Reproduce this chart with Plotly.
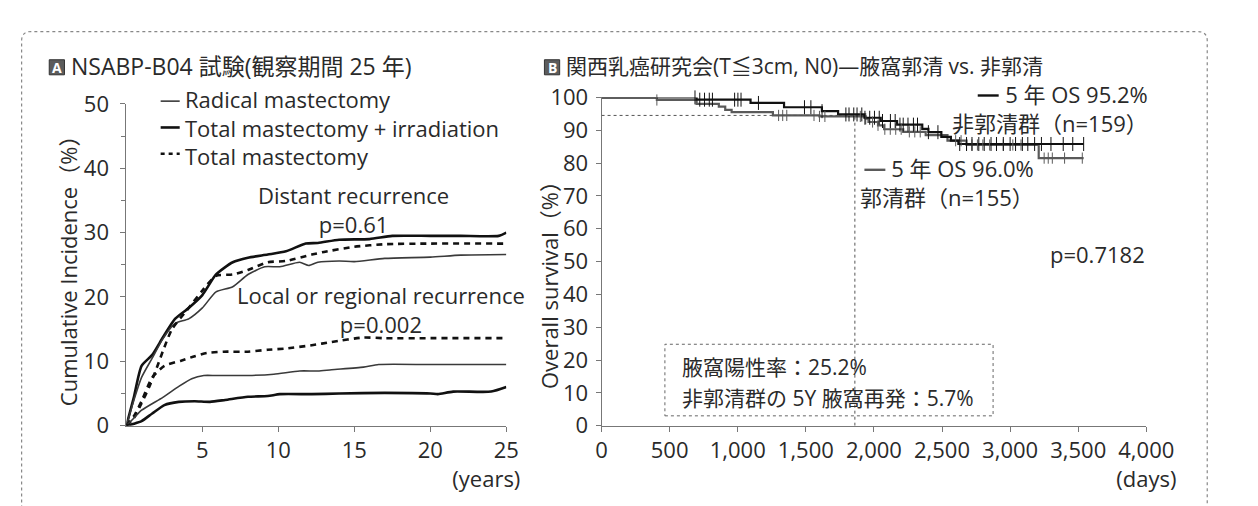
import plotly.graph_objects as go

# ---------------- data: panel A (NSABP-B04, cumulative incidence %) ----------------
dist_tmi_years = [0, 0.5, 1, 1.7, 2.4, 3.2, 4.1, 5, 5.9, 7, 8, 9.3, 10.5, 11.8, 12.6, 14, 16, 17.5, 20, 22, 24.5, 25]
dist_tmi_vals  = [0, 4.5, 9.3, 11.0, 13.7, 16.6, 18.3, 20.3, 23.5, 25.4, 26.1, 26.6, 27.1, 28.3, 28.4, 28.9, 29.0, 29.5, 29.5, 29.5, 29.5, 30.0]

dist_rm_years = [0, 0.5, 1, 1.7, 2.4, 3.2, 4.1, 5, 5.9, 7, 8, 9.1, 10.1, 11.4, 12, 12.6, 14, 15, 17, 20, 22, 25]
dist_rm_vals  = [0, 4.0, 7.5, 10.5, 13.5, 15.9, 16.6, 18.3, 20.8, 21.6, 23.5, 24.7, 24.7, 25.4, 24.9, 25.4, 25.6, 25.5, 26.0, 26.2, 26.5, 26.6]

dist_tm_years = [0, 0.5, 1, 1.5, 2, 2.5, 3, 4, 5, 5.9, 7, 8, 9.3, 10.5, 12.2, 13, 15, 17, 20, 25]
dist_tm_vals  = [0, 1.2, 3.5, 6.0, 9.0, 12.2, 15.0, 18.0, 21.0, 23.3, 23.5, 24.2, 25.4, 25.6, 26.6, 27.0, 27.8, 28.2, 28.3, 28.3]

loc_tm_years = [0, 0.5, 1, 1.7, 2.5, 3.6, 4.5, 5.3, 6.4, 8, 9.3, 10.5, 12.2, 13.5, 15.6, 17, 20, 25]
loc_tm_vals  = [0, 1.5, 3.8, 7.5, 9.3, 10.1, 10.8, 11.3, 11.5, 11.5, 11.8, 12.0, 12.5, 13.0, 13.7, 13.6, 13.6, 13.6]

loc_rm_years = [0, 0.5, 1, 2.4, 3.45, 4.3, 5.1, 5.9, 8, 9.7, 11.4, 12.6, 13.5, 15.6, 16.6, 20, 25]
loc_rm_vals  = [0, 1.2, 2.4, 4.4, 6.1, 7.3, 7.8, 7.8, 7.8, 8.0, 8.5, 8.5, 8.7, 9.1, 9.5, 9.5, 9.5]

loc_tmi_years = [0, 0.5, 1, 1.7, 2.5, 3.45, 4.5, 5.5, 6.5, 8, 9.3, 10.1, 12.2, 14, 17, 20, 20.5, 21.5, 24, 25]
loc_tmi_vals  = [0, 0.3, 0.7, 1.9, 3.2, 3.7, 3.8, 3.7, 4.0, 4.5, 4.6, 4.9, 4.9, 5.0, 5.1, 5.0, 4.9, 5.3, 5.3, 6.0]

a_xticks = [5, 10, 15, 20, 25]
a_xticktext = ["5", "10", "15", "20", "25<br>(years)" + "&nbsp;" * 7]
a_yticks = [0, 10, 20, 30, 40, 50]
legend_a = ["Radical mastectomy", "Total mastectomy + irradiation", "Total mastectomy"]

# ---------------- data: panel B (overall survival %) ----------------
nondis_days = [0, 698, 1094, 1340, 1618, 1737, 1930, 2050, 2170, 2355, 2400, 2495, 2565, 2620, 3540]
nondis_os   = [100, 99.3, 98.3, 97.0, 95.8, 94.8, 93.8, 92.8, 91.7, 90.4, 89.4, 88.0, 86.8, 85.8, 85.8]
nondis_cens = [686, 721, 756, 791, 814, 977, 1001, 1024, 1152, 1490, 1537, 1619, 1794, 1817, 1852,
               1876, 1911, 1934, 1969, 2004, 2039, 2063, 2121, 2156, 2191, 2215, 2250, 2290, 2320,
               2400, 2470, 2630, 2680, 2720, 2770, 2810, 2860, 2900, 2950, 3000, 3040, 3090, 3130,
               3180, 3230, 3300, 3390, 3460, 3540]

dis_days = [0, 406, 698, 861, 908, 955, 1258, 1600, 1940, 1960, 2030, 2075, 2215, 2380, 2540, 2680, 3210, 3540]
dis_os   = [100, 99.2, 98.0, 97.2, 96.2, 95.5, 94.5, 94.2, 93.5, 92.5, 91.5, 90.3, 89.5, 88.5, 86.8, 85.5, 81.5, 81.5]
dis_cens = [406, 1300, 1330, 1360, 1560, 1600, 1640, 1900, 1940, 1990, 2030, 2080, 2120, 2160, 2200,
            2260, 2300, 2340, 2600, 2640, 2680, 2720, 2760, 2800, 2850, 2900, 2950, 3020, 3080,
            3250, 3280, 3310, 3400, 3530]

b_xticks = [0, 500, 1000, 1500, 2000, 2500, 3000, 3500, 4000]
b_xticktext = ["0", "500", "1,000", "1,500", "2,000", "2,500", "3,000", "3,500", "4,000<br>(days)"]
b_yticks = [0, 10, 20, 30, 40, 50, 60, 70, 80, 90, 100]
five_year_day = 1860
five_year_os = 94.5
box_days = [465, 2875]
box_os = [3, 24.8]
box_lines = ["腋窩陽性率：25.2%", "非郭清群の 5Y 腋窩再発：5.7%"]

# ---------------- figure ----------------
W, H = 1258, 506
FONT = "Open Sans, Noto Sans CJK JP, sans-serif"
TXT = "#2a2a2a"
FS = 22
def px(x): return x / W
def py(y): return 1 - y / H

def step_lookup(days, vals, t):
    v = vals[0]
    for d, s in zip(days, vals):
        if d <= t:
            v = s
    return v

fig = go.Figure()

thick = dict(color="#111", width=2.6)
thin = dict(color="#3a3a3a", width=1.6)
dashed = dict(color="#111", width=2.6, dash="6px,5px")

for xs, ys, ln in [(dist_tmi_years, dist_tmi_vals, thick), (dist_rm_years, dist_rm_vals, thin),
                   (dist_tm_years, dist_tm_vals, dashed), (loc_tm_years, loc_tm_vals, dashed),
                   (loc_rm_years, loc_rm_vals, thin), (loc_tmi_years, loc_tmi_vals, thick)]:
    fig.add_trace(go.Scatter(x=xs, y=ys, mode="lines", line=dict(shape="spline", smoothing=0.6, **ln),
                             xaxis="x", yaxis="y", showlegend=False, hoverinfo="skip"))

# panel B curves
fig.add_trace(go.Scatter(x=dis_days, y=dis_os, mode="lines", line=dict(shape="hv", color="#5a5a5a", width=2.2),
                         xaxis="x2", yaxis="y2", showlegend=False, hoverinfo="skip"))
fig.add_trace(go.Scatter(x=nondis_days, y=nondis_os, mode="lines", line=dict(shape="hv", color="#111", width=2.2),
                         xaxis="x2", yaxis="y2", showlegend=False, hoverinfo="skip"))
fig.add_trace(go.Scatter(x=dis_cens, y=[step_lookup(dis_days, dis_os, t) for t in dis_cens], mode="markers",
                         marker=dict(symbol="line-ns", size=8, line=dict(color="#5a5a5a", width=1)),
                         xaxis="x2", yaxis="y2", showlegend=False, hoverinfo="skip"))
fig.add_trace(go.Scatter(x=nondis_cens, y=[step_lookup(nondis_days, nondis_os, t) for t in nondis_cens], mode="markers",
                         marker=dict(symbol="line-ns", size=10, line=dict(color="#111", width=1)),
                         xaxis="x2", yaxis="y2", showlegend=False, hoverinfo="skip"))

axis_common = dict(showline=True, linecolor="#777", linewidth=1, ticks="outside", tickcolor="#777",
                   ticklen=5, showgrid=False, zeroline=False, tickfont=dict(family=FONT, size=FS, color=TXT))

fig.update_layout(
    width=W, height=H, margin=dict(l=0, r=0, t=0, b=0),
    paper_bgcolor="white", plot_bgcolor="rgba(0,0,0,0)",
    font=dict(family=FONT, color=TXT),
    xaxis=dict(domain=[px(118), px(517)], range=[0, 25], tickvals=a_xticks, ticktext=a_xticktext,
               anchor="y", **axis_common),
    yaxis=dict(domain=[py(427), py(85)], range=[0, 50], tickvals=a_yticks, anchor="x", ticklabelstandoff=7,
               minor=dict(tickvals=[5, 15, 25, 35, 45], ticklen=4, ticks="outside", tickcolor="#777"), **axis_common),
    xaxis2=dict(domain=[px(617), px(1189)], range=[0, 4000], tickvals=b_xticks, ticktext=b_xticktext,
                anchor="y2", **axis_common),
    yaxis2=dict(domain=[py(427), py(78)], range=[0, 100], tickvals=b_yticks, anchor="x2", ticklabelstandoff=3,
                **axis_common),
)
fig.update_xaxes(ticklen=5)
fig.update_traces(cliponaxis=False)

shapes = []
# outer rounded frame
L, T, R, B = px(8), py(8), px(1253), py(515)
rx, ry = 10 / W, 10 / H
shapes.append(dict(type="path", xref="paper", yref="paper",
                   path=f"M {L},{B} L {L},{T-ry} Q {L},{T} {L+rx},{T} L {R-rx},{T} Q {R},{T} {R},{T-ry} L {R},{B}",
                   line=dict(color="#888", width=1.2, dash="dot")))
# panel letter boxes
for x0 in (37, 557):
    shapes.append(dict(type="rect", xref="paper", yref="paper", x0=px(x0), x1=px(x0 + 16), y0=py(54), y1=py(38),
                       fillcolor="#5c5c5c", line=dict(color="#333", width=1)))
# legend swatches panel A (aligned with the three text lines)
for yy, ln in [(82, thin), (110, thick), (138, dashed)]:
    d = dict(ln)
    if "dash" in d:
        d["dash"] = "4px,4px"
    shapes.append(dict(type="line", xref="paper", yref="paper", x0=px(154), x1=px(174), y0=py(yy), y1=py(yy), line=d))
# legend swatches panel B
shapes.append(dict(type="line", xref="paper", yref="paper", x0=px(1012), x1=px(1034), y0=py(76), y1=py(76),
                   line=dict(color="#111", width=2.4)))
shapes.append(dict(type="line", xref="paper", yref="paper", x0=px(893), x1=px(915), y0=py(155), y1=py(155),
                   line=dict(color="#5a5a5a", width=2.4)))
# 5-year reference lines
shapes.append(dict(type="line", xref="x2", yref="y2", x0=five_year_day, x1=five_year_day, y0=0, y1=five_year_os,
                   line=dict(color="#555", width=1, dash="dot")))
shapes.append(dict(type="line", xref="x2", yref="y2", x0=0, x1=five_year_day, y0=five_year_os, y1=five_year_os,
                   line=dict(color="#555", width=1, dash="dot")))
# info box
shapes.append(dict(type="rect", xref="x2", yref="y2", x0=box_days[0], x1=box_days[1], y0=box_os[0], y1=box_os[1],
                   line=dict(color="#666", width=1, dash="dot"), fillcolor="white", layer="below"))
fig.update_layout(shapes=shapes)

ann = []
def text(x, y, s, size=FS, xanchor="left", **kw):
    ann.append(dict(x=px(x), y=py(y), xref="paper", yref="paper", text=s, showarrow=False,
                    xanchor=xanchor, yanchor="middle", font=dict(family=FONT, size=size, color=kw.pop("color", TXT)), **kw))

text(45, 46, "<b>A</b>", size=14, xanchor="center", color="white")
text(565, 46, "<b>B</b>", size=14, xanchor="center", color="white")
text(58, 45, "NSABP-B04 試験(観察期間 25 年)", size=23)
text(578, 45, "関西乳癌研究会(T≦3cm, N0)—腋窩郭清 vs. 非郭清", size=21)
text(177, 110, "<br>".join(legend_a), align="left")
text(356, 197, "Distant recurrence<br>p=0.61", xanchor="center", align="center")
text(385, 304, "Local or regional recurrence<br>p=0.002", xanchor="center", align="center")
text(56, 256, "Cumulative Incidence（%）", xanchor="center", textangle=-90)
text(562, 272, "Overall survival（%）", xanchor="center", textangle=-90)
text(1193, 90, "5 年 OS 95.2%<br>非郭清群（n=159）", xanchor="right", align="right")
text(1073, 169, "5 年 OS 96.0%<br>郭清群（n=155）", xanchor="right", align="right")
text(1138, 245, "p=0.7182", xanchor="center")
text(699, 365, box_lines[0], size=21)
text(699, 398, box_lines[1], size=21)
fig.update_layout(annotations=ann)

fig.write_html("out.html")
